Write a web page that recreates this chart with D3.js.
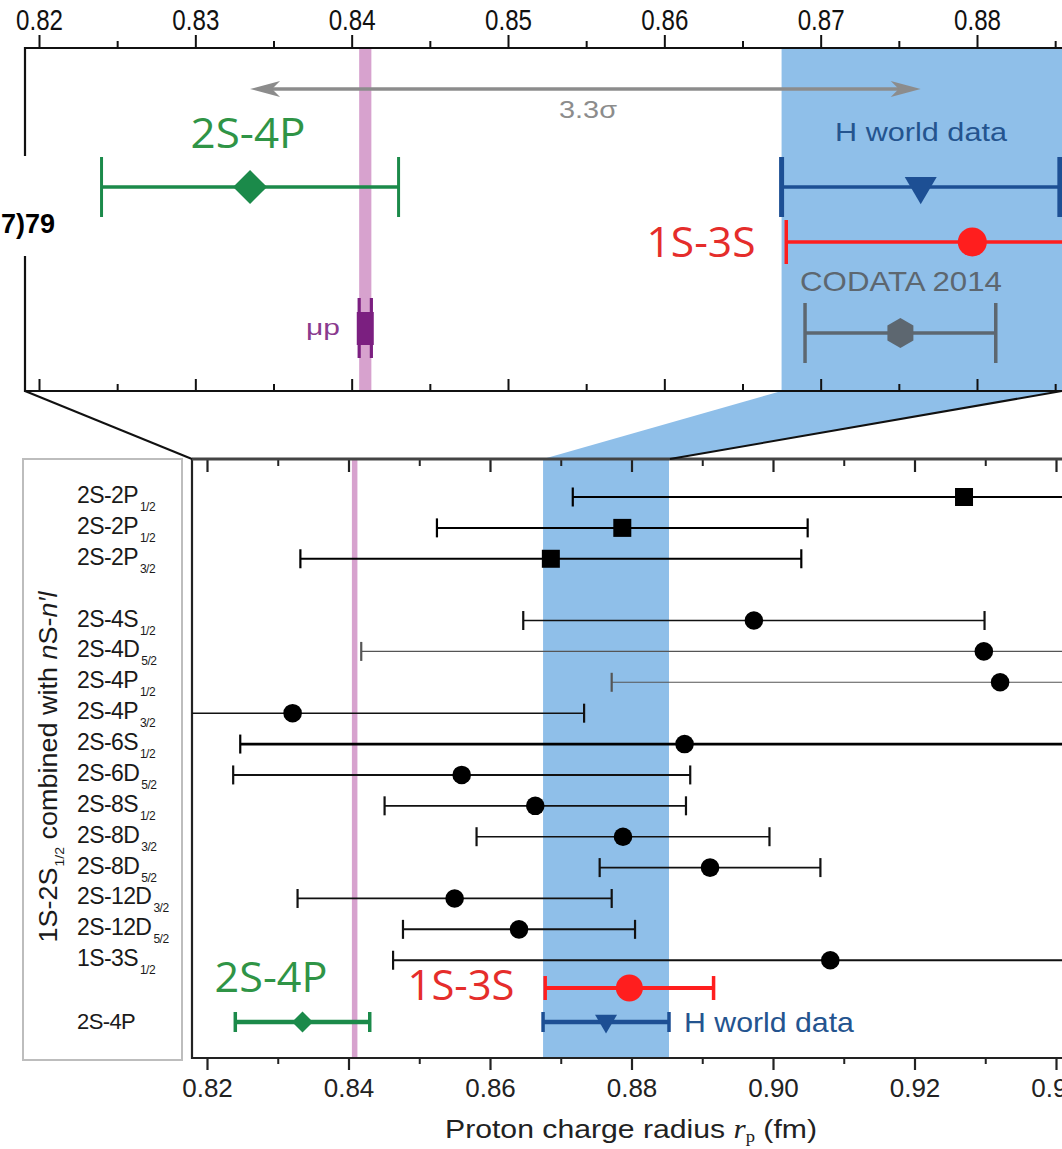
<!DOCTYPE html>
<html>
<head>
<meta charset="utf-8">
<script src="https://cdn.jsdelivr.net/npm/d3@7"></script>
<style>
  body { margin: 0; background: #fff; }
  svg { display: block; }
  text { font-family: "Liberation Sans", Arial, Helvetica, sans-serif; }
</style>
</head>
<body>
<svg id="chart" width="1062" height="1149"></svg>
<script>
// ---------- data (proton charge radius, fm) ----------
// Summary determinations: central value and 1-sigma uncertainty
const summaryNames  = ["2S-4P", "H world data", "1S-3S", "CODATA 2014", "μp"];
const summaryValues = [0.8335, 0.8764, 0.8797, 0.8751, 0.84087];
const summarySigmas = [0.0095, 0.0089, 0.0119, 0.0061, 0.00039];

// 1S-2S combined with one other transition
const rowTransitions = ["2S-2P", "2S-2P", "2S-2P", "2S-4S", "2S-4D", "2S-4P", "2S-4P", "2S-6S",
                        "2S-6D", "2S-8S", "2S-8D", "2S-8D", "2S-12D", "2S-12D", "1S-3S"];
const rowSubscripts  = ["1/2", "1/2", "3/2", "1/2", "5/2", "1/2", "3/2", "1/2",
                        "5/2", "1/2", "3/2", "5/2", "3/2", "5/2", "1/2"];
const rowValues = [0.9270, 0.8787, 0.8686, 0.8973, 0.9298, 0.9321, 0.8321, 0.8875,
                   0.8560, 0.8664, 0.8788, 0.8911, 0.8550, 0.8641, 0.9081];
const rowSigmas = [0.0553, 0.0262, 0.0354, 0.0326, 0.0880, 0.0549, 0.0412, 0.0628,
                   0.0323, 0.0213, 0.0207, 0.0156, 0.0222, 0.0164, 0.0618];
const rowMarkers = ["square", "square", "square", "circle", "circle", "circle", "circle", "circle",
                    "circle", "circle", "circle", "circle", "circle", "circle", "circle"];
const rowSlots = [0, 1, 2, 4, 5, 6, 7, 8, 9, 10, 11, 12, 13, 14, 15];

// axis ticks
const topMajorTicks = [0.82, 0.83, 0.84, 0.85, 0.86, 0.87, 0.88];
const topMinorTicks = [0.825, 0.835, 0.845, 0.855, 0.865, 0.875, 0.885];
const botMajorTicks = [0.82, 0.84, 0.86, 0.88, 0.90, 0.92, 0.94];
const botMinorTicks = [0.83, 0.85, 0.87, 0.89, 0.91, 0.93];

// ---------- styles ----------
const C = {
  green: "#1b8a4a", greenText: "#2f9446",
  blue: "#1d4f94", blueText: "#24548f",
  red: "#ff1e1e", redText: "#e52d2b",
  gray: "#5d6770", grayText: "#5d6770",
  arrow: "#8c8c8c",
  purple: "#7b1f80", purpleText: "#8a3a8e",
  band: "#8fbfe9", pink: "#d7a2ce"
};
const rowLineWidth = [2, 2, 2, 1.6, 1.1, 1.1, 1.6, 2.8, 2, 1.8, 1.6, 1.6, 1.8, 2, 1.8];
const rowLineColor = ["#000", "#000", "#000", "#111", "#555", "#555", "#111", "#000",
                      "#111", "#111", "#111", "#111", "#111", "#111", "#111"];

// ---------- layout ----------
const W = 1062;
const svg = d3.select("#chart");
const P1 = { left: 25, top: 48, bottom: 391, right: W };     // zoomed-in panel
const P2 = { left: 192, top: 459, bottom: 1058, right: W };  // full comparison panel

const xTop = d3.scaleLinear().domain([0.82, 0.88]).range([39, 977]);
const xBot = d3.scaleLinear().domain([0.82, 0.94]).range([207, 1056]);
const yRow = d3.scaleLinear().domain([0, 17]).range([497, 1022]);

const defs = svg.append("defs");
defs.append("clipPath").attr("id", "clipTop").append("rect")
  .attr("x", P1.left).attr("y", P1.top).attr("width", P1.right - P1.left).attr("height", P1.bottom - P1.top);
defs.append("clipPath").attr("id", "clipBot").append("rect")
  .attr("x", P2.left).attr("y", P2.top).attr("width", P2.right - P2.left).attr("height", P2.bottom - P2.top);

const idx = n => summaryNames.indexOf(n);
const lo = n => summaryValues[idx(n)] - summarySigmas[idx(n)];
const hi = n => summaryValues[idx(n)] + summarySigmas[idx(n)];

// text centred at (cx, cy), optionally stretched to a given width
function label(parent, str, cx, cy, size, color, opts = {}) {
  const base = cy + 0.36 * size;
  const g = parent.append("g").attr("transform", `translate(${cx},${base})`);
  const t = g.append("text").attr("text-anchor", opts.anchor || "middle")
    .attr("font-size", size).attr("fill", color).text(str);
  if (opts.family) t.style("font-family", opts.family);
  if (opts.weight) t.attr("font-weight", opts.weight);
  if (opts.width) {
    const len = t.node().getComputedTextLength();
    g.attr("transform", `translate(${cx},${base}) scale(${opts.width / len},1)`);
  }
  return t;
}
const humanist = '"Open Sans", "Noto Sans", sans-serif';

// ---------- zoom connector (blue wedge) ----------
const hLo = lo("H world data"), hHi = hi("H world data");
const topRightVal = xTop.invert(W);
svg.append("polygon")
  .attr("points", [
    [xTop(hLo), P1.bottom], [W, P1.bottom],
    [xBot(topRightVal), P2.top], [xBot(hLo), P2.top]
  ].map(p => p.join(",")).join(" "))
  .attr("fill", C.band);

// ---------- bands ----------
const gTop = svg.append("g").attr("clip-path", "url(#clipTop)");
gTop.append("rect").attr("x", xTop(hLo)).attr("y", P1.top)
  .attr("width", W - xTop(hLo)).attr("height", P1.bottom - P1.top).attr("fill", C.band);
gTop.append("rect").attr("x", xTop(lo("μp"))).attr("y", P1.top)
  .attr("width", xTop(hi("μp")) - xTop(lo("μp"))).attr("height", P1.bottom - P1.top).attr("fill", C.pink);

const gBot = svg.append("g").attr("clip-path", "url(#clipBot)");
gBot.append("rect").attr("x", xBot(hLo)).attr("y", P2.top)
  .attr("width", xBot(hHi) - xBot(hLo)).attr("height", P2.bottom - P2.top).attr("fill", C.band);
gBot.append("rect").attr("x", xBot(lo("μp"))).attr("y", P2.top)
  .attr("width", xBot(hi("μp")) - xBot(lo("μp"))).attr("height", P2.bottom - P2.top).attr("fill", C.pink);

// ---------- axes ----------
function styleAxis(g, width, color) {
  g.select(".domain").remove();
  g.selectAll(".tick line").attr("stroke", color || "#111").attr("stroke-width", width || 2);
}
// top panel: labelled ticks outside on top
const axT = svg.append("g").attr("transform", `translate(0,${P1.top})`)
  .call(d3.axisTop(xTop).tickValues(topMajorTicks).tickSize(13).tickPadding(5).tickFormat(d3.format(".2f")));
styleAxis(axT);
axT.selectAll(".tick text").attr("font-size", 30).attr("fill", "#111")
  .each(function () {
    const len = this.getComputedTextLength();
    d3.select(this).attr("transform", `scale(${47 / len},1)`);
  });
styleAxis(svg.append("g").attr("transform", `translate(0,${P1.top})`)
  .call(d3.axisTop(xTop).tickValues(topMinorTicks).tickSize(7).tickFormat("")));
// top panel bottom edge: inward ticks
styleAxis(svg.append("g").attr("transform", `translate(0,${P1.bottom})`)
  .call(d3.axisTop(xTop).tickValues(topMajorTicks).tickSize(12).tickFormat("")));
styleAxis(svg.append("g").attr("transform", `translate(0,${P1.bottom})`)
  .call(d3.axisTop(xTop).tickValues(topMinorTicks).tickSize(7).tickFormat("")));

// lower panel top edge: inward ticks
styleAxis(svg.append("g").attr("transform", `translate(0,${P2.top})`)
  .call(d3.axisBottom(xBot).tickValues(botMajorTicks).tickSize(13).tickFormat("")), 2.2, "#222");
styleAxis(svg.append("g").attr("transform", `translate(0,${P2.top})`)
  .call(d3.axisBottom(xBot).tickValues(botMinorTicks).tickSize(7).tickFormat("")), 2, "#222");
// lower panel bottom axis
const axB = svg.append("g").attr("transform", `translate(0,${P2.bottom})`)
  .call(d3.axisBottom(xBot).tickValues(botMajorTicks).tickSize(12).tickPadding(9).tickFormat(d3.format(".2f")));
styleAxis(axB, 2.2, "#222");
axB.selectAll(".tick text").attr("font-size", 26).attr("fill", "#222");
styleAxis(svg.append("g").attr("transform", `translate(0,${P2.bottom})`)
  .call(d3.axisBottom(xBot).tickValues(botMinorTicks).tickSize(6).tickFormat("")), 2, "#222");

// frames
const frame = svg.append("g").attr("fill", "none").attr("stroke", "#111").attr("stroke-width", 2.2);
frame.append("path").attr("d", `M${W},${P1.top}H${P1.left}V${P1.bottom}H${W}`);
frame.append("path").attr("d", `M${W},${P2.top}H${P2.left}V${P2.bottom}H${W}`).attr("stroke", "#222");
svg.append("line").attr("x1", P2.left).attr("x2", W).attr("y1", P2.top).attr("y2", P2.top)
  .attr("stroke", "#444").attr("stroke-width", 3);

// connector lines
svg.append("line").attr("x1", P1.left).attr("y1", P1.bottom).attr("x2", P2.left).attr("y2", P2.top)
  .attr("stroke", "#111").attr("stroke-width", 2);
svg.append("line").attr("x1", W).attr("y1", P1.bottom).attr("x2", xBot(topRightVal)).attr("y2", P2.top)
  .attr("stroke", "#111").attr("stroke-width", 2);

// label box of the lower panel
svg.append("rect").attr("x", 23).attr("y", P2.top).attr("width", 159).attr("height", 601)
  .attr("fill", "none").attr("stroke", "#bdbdbd").attr("stroke-width", 2);

// ---------- marker helpers ----------
function errorBar(g, x, v, s, y, capH, lw, color, capW) {
  g.append("line").attr("x1", x(v - s)).attr("x2", x(v + s)).attr("y1", y).attr("y2", y)
    .attr("stroke", color).attr("stroke-width", lw);
  [v - s, v + s].forEach(e => g.append("line").attr("x1", x(e)).attr("x2", x(e))
    .attr("y1", y - capH / 2).attr("y2", y + capH / 2)
    .attr("stroke", color).attr("stroke-width", capW || lw));
}
function marker(g, type, cx, cy, size, color) {
  if (type === "circle") {
    g.append("circle").attr("cx", cx).attr("cy", cy).attr("r", size).attr("fill", color);
  } else if (type === "square") {
    g.append("rect").attr("x", cx - size).attr("y", cy - size).attr("width", 2 * size).attr("height", 2 * size).attr("fill", color);
  } else if (type === "diamond") {
    g.append("path").attr("d", `M${cx},${cy - size}L${cx + size},${cy}L${cx},${cy + size}L${cx - size},${cy}Z`).attr("fill", color);
  } else if (type === "triangle") {
    g.append("path").attr("d", `M${cx - size},${cy - size * 0.75}L${cx + size},${cy - size * 0.75}L${cx},${cy + size * 0.95}Z`).attr("fill", color);
  } else if (type === "hexagon") {
    const pts = d3.range(6).map(k => {
      const a = Math.PI / 3 * k - Math.PI / 2;
      return [cx + size * Math.cos(a), cy + size * Math.sin(a)];
    });
    g.append("path").attr("d", "M" + pts.join("L") + "Z").attr("fill", color);
  }
}

// ---------- zoomed-in panel ----------
const mTop = svg.append("g").attr("clip-path", "url(#clipTop)");

// 3.3 sigma separation arrow
{
  const y = 89, x1 = xTop(summaryValues[idx("2S-4P")]), x2 = xTop(summaryValues[idx("H world data")]);
  mTop.append("line").attr("x1", x1 + 20).attr("x2", x2 - 20).attr("y1", y).attr("y2", y)
    .attr("stroke", C.arrow).attr("stroke-width", 3.5);
  mTop.append("path").attr("d", `M${x1},${y}L${x1 + 30},${y - 8}L${x1 + 22},${y}L${x1 + 30},${y + 8}Z`).attr("fill", C.arrow);
  mTop.append("path").attr("d", `M${x2},${y}L${x2 - 30},${y - 8}L${x2 - 22},${y}L${x2 - 30},${y + 8}Z`).attr("fill", C.arrow);
  label(svg, "3.3σ", 588, 110, 23, C.arrow, { width: 58 });
}

// 2S-4P
{
  const v = summaryValues[idx("2S-4P")], s = summarySigmas[idx("2S-4P")];
  errorBar(mTop, xTop, v, s, 187, 60, 3.6, C.green, 3);
  marker(mTop, "diamond", xTop(v), 187, 17, C.green);
}
// H world data
{
  const v = summaryValues[idx("H world data")], s = summarySigmas[idx("H world data")];
  errorBar(mTop, xTop, v, s, 187, 60, 3.6, C.blue, 5);
  marker(mTop, "triangle", xTop(v), 189, 16, C.blue);
}
// 1S-3S
{
  const v = summaryValues[idx("1S-3S")], s = summarySigmas[idx("1S-3S")];
  errorBar(mTop, xTop, v, s, 242, 44, 3.6, C.red, 3.5);
  marker(mTop, "circle", xTop(v), 242, 14.5, C.red);
}
// CODATA 2014
{
  const v = summaryValues[idx("CODATA 2014")], s = summarySigmas[idx("CODATA 2014")];
  errorBar(mTop, xTop, v, s, 333, 60, 3.6, C.gray, 3.5);
  marker(mTop, "hexagon", xTop(v), 333, 15, C.gray);
}
// muonic hydrogen
{
  const v = summaryValues[idx("μp")], s = summarySigmas[idx("μp")];
  [v - s, v + s].forEach(e => mTop.append("line").attr("x1", xTop(e)).attr("x2", xTop(e))
    .attr("y1", 298).attr("y2", 358).attr("stroke", C.purple).attr("stroke-width", 3.2));
  mTop.append("rect").attr("x", xTop(v) - 8.5).attr("y", 312).attr("width", 17).attr("height", 33).attr("fill", C.purple);
}

// top panel labels
label(svg, "2S-4P", 248, 133, 42, C.greenText, { family: humanist, width: 115 });
label(svg, "H world data", 921, 132, 26, C.blueText, { width: 172 });
label(svg, "1S-3S", 701, 242, 42, C.redText, { family: humanist, width: 109 });
label(svg, "CODATA 2014", 901, 281, 27, C.grayText, { width: 202 });
label(svg, "μp", 323, 327, 22, C.purpleText, { width: 34 });

// text fragment on the left margin
svg.append("rect").attr("x", 0).attr("y", 156).attr("width", 60).attr("height", 100).attr("fill", "#fff");
svg.append("text").attr("x", 55).attr("y", 233).attr("text-anchor", "end")
  .attr("font-size", 27).attr("font-weight", "bold").attr("fill", "#000").text("7)79");

// ---------- full comparison panel ----------
const mBot = svg.append("g").attr("clip-path", "url(#clipBot)");

rowValues.forEach((v, i) => {
  const y = yRow(rowSlots[i]);
  errorBar(mBot, xBot, v, rowSigmas[i], y, 19, rowLineWidth[i], rowLineColor[i], 2.2);
  marker(mBot, rowMarkers[i], xBot(v), y, rowMarkers[i] === "square" ? 9 : 9.3, "#000");
});

// summary results in the lower panel
{
  const yR = yRow(15.9), yB = yRow(17);
  let n = "1S-3S";
  errorBar(mBot, xBot, summaryValues[idx(n)], summarySigmas[idx(n)], yR, 24, 4, C.red, 3.5);
  marker(mBot, "circle", xBot(summaryValues[idx(n)]), yR, 13.5, C.red);
  n = "H world data";
  errorBar(mBot, xBot, summaryValues[idx(n)], summarySigmas[idx(n)], yB, 20, 4.5, C.blue, 3.5);
  marker(mBot, "triangle", xBot(summaryValues[idx(n)]), yB + 1, 11, C.blue);
  n = "2S-4P";
  errorBar(mBot, xBot, summaryValues[idx(n)], summarySigmas[idx(n)], yB, 20, 4.5, C.green, 3.5);
  marker(mBot, "diamond", xBot(summaryValues[idx(n)]), yB, 10.5, C.green);
}
label(svg, "2S-4P", 271, 977, 42, C.greenText, { family: humanist, width: 113 });
label(svg, "1S-3S", 461, 985, 42, C.redText, { family: humanist, width: 107 });
label(svg, "H world data", 769, 1022, 27, C.blueText, { width: 170 });

// row labels with fine-structure subscripts
const rowLab = svg.append("g").attr("fill", "#1a1a1a");
rowTransitions.forEach((t, i) => {
  const y = yRow(rowSlots[i]);
  const tx = rowLab.append("text").attr("x", 77).attr("y", y + 6)
    .attr("font-size", 23).attr("letter-spacing", -0.6);
  tx.append("tspan").text(t);
  tx.append("tspan").attr("font-size", 12).attr("dx", 2).attr("dy", 8).attr("letter-spacing", -0.5)
    .text(rowSubscripts[i]);
});
rowLab.append("text").attr("x", 77).attr("y", yRow(17) + 7)
  .attr("font-size", 22).attr("letter-spacing", -0.6).text(summaryNames[idx("2S-4P")]);

// rotated group title
{
  const g = svg.append("g").attr("transform", "translate(48,767) rotate(-90)");
  const t = g.append("text").attr("text-anchor", "middle").attr("y", 9).attr("font-size", 25).attr("fill", "#1a1a1a");
  t.append("tspan").text("1S-2S");
  t.append("tspan").attr("font-size", 13).attr("dy", 7).attr("dx", 1).text("1/2");
  t.append("tspan").attr("dy", -7).text(" combined with ");
  t.append("tspan").attr("font-style", "italic").text("n");
  t.append("tspan").text("S-");
  t.append("tspan").attr("font-style", "italic").text("n′l");
  const len = t.node().getComputedTextLength();
  t.attr("transform", `scale(${350 / len},1)`);
}

// x-axis title
{
  const g = svg.append("g").attr("transform", "translate(631,1138)");
  const t = g.append("text").attr("text-anchor", "middle").attr("font-size", 26).attr("fill", "#222");
  t.append("tspan").text("Proton charge radius ");
  t.append("tspan").attr("font-style", "italic").style("font-family", '"Liberation Serif", "DejaVu Serif", serif')
    .attr("font-size", 27).text("r");
  t.append("tspan").style("font-family", '"Liberation Serif", "DejaVu Serif", serif')
    .attr("font-size", 16).attr("dy", 4).text("p");
  t.append("tspan").attr("dy", -4).text(" (fm)");
  const len = t.node().getComputedTextLength();
  g.attr("transform", `translate(631,1138) scale(${372 / len},1)`);
}
</script>
</body>
</html>
